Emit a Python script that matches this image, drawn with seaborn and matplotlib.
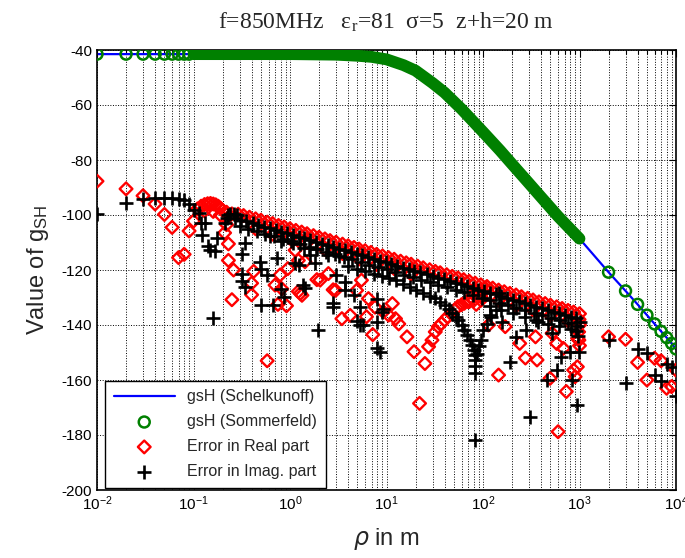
import numpy as np
import matplotlib
matplotlib.use("Agg")
import matplotlib.pyplot as plt
import seaborn as sns

# ---- Schelkunoff / Sommerfeld curve (dB) ----
rho_curve = [0.01, 0.1, 1, 3, 5, 7, 10, 15, 20, 30, 40, 60, 100, 150, 200,
             300, 400, 600, 1000, 2000, 3000, 4000, 5000, 6000, 7000, 8000,
             9000, 10000]
g_sch = [-41.5, -41.5, -41.5, -41.7, -42.1, -42.5, -43.4, -45.5, -47.5, -52.0,
         -55.5, -61.5, -69.8, -76.5, -81.5, -88.5, -93.5, -100.5, -108.6,
         -120.8, -127.6, -132.5, -136.4, -139.6, -142.3, -144.6, -146.7, -148.7]

rho_som = [0.01, 0.02, 0.03, 0.04, 0.05, 0.06, 0.07, 0.08, 0.09,
           2000, 3000, 4000, 5000, 6000, 7000, 8000, 9000, 10000]
g_som = [-41.5, -41.5, -41.5, -41.5, -41.5, -41.5, -41.5, -41.5, -41.5,
         -120.8, -127.6, -132.5, -136.4, -139.6, -142.3, -144.6, -146.7, -148.7]

# ---- error in real part (red diamonds) ----
re_near = [(0.01, -87.7), (0.02, -90.5), (0.03, -93.0), (0.04, -96.0), (0.05, -99.8),
           (0.06, -104.5), (0.07, -115.5), (0.08, -114.3), (0.09, -105.8), (0.10, -102.2),
           (0.11, -97.8), (0.12, -96.8), (0.13, -96.2), (0.14, -95.9), (0.15, -95.8),
           (0.16, -96.0), (0.17, -96.3), (0.18, -96.8), (0.19, -97.5), (0.20, -98.3),
           (0.13, -98.5), (0.16, -98.7), (0.19, -100.0), (0.21, -106.5), (0.22, -103.5),
           (0.23, -110.5), (0.23, -116.5), (0.25, -130.8), (0.26, -120.0), (0.40, -124.8),
           (0.40, -129.0), (0.42, -120.5), (0.58, -153.0), (0.70, -125.5), (0.75, -132.5),
           (0.79, -121.8), (0.82, -126.8), (0.92, -133.0), (0.95, -119.5), (1.13, -112.8),
           (1.22, -116.5), (1.22, -127.8), (1.33, -129.2), (1.43, -117.0), (1.28, -128.5),
           (1.9, -123.5), (2.05, -123.7), (2.5, -121.3), (2.8, -127.2), (2.97, -127.4),
           (3.45, -137.7), (4.2, -136.5), (4.9, -127.4), (5.5, -123.7), (6.2, -137.0),
           (6.5, -130.4), (7.2, -143.5), (7.6, -133.5), (9.3, -135.2), (11.5, -132.2),
           (12.4, -137.7)]
re_top = [(0.22, -99.0), (0.25, -99.6), (0.29, -99.7), (0.33, -100.2), (0.38, -100.8),
          (0.44, -101.4), (0.5, -101.9), (0.58, -102.6), (0.66, -103.1), (0.76, -103.8),
          (0.87, -104.4), (1.0, -105.0), (1.15, -105.6), (1.32, -106.2), (1.5, -106.8),
          (1.75, -107.5), (2.0, -108.1), (2.3, -108.7), (2.6, -109.3), (3.0, -109.9),
          (3.5, -110.6), (4.0, -111.2), (4.6, -111.8), (5.2, -112.4), (6.0, -113.0),
          (6.9, -113.6), (7.9, -114.3), (9.1, -114.9), (10.5, -115.5), (12, -116.1),
          (14, -116.8), (16, -117.4), (18, -117.9), (21, -118.6), (24, -119.2),
          (28, -119.9), (32, -120.5), (36, -121.0), (42, -121.7), (48, -122.3),
          (55, -122.9), (63, -123.5), (72, -124.1), (83, -124.8), (95, -125.4),
          (110, -126.0), (126, -126.6), (145, -127.3), (166, -127.9), (190, -128.5),
          (220, -129.1), (250, -129.7), (290, -130.3), (330, -130.9), (380, -131.6),
          (440, -132.2), (500, -132.8), (580, -133.4), (660, -134.0), (760, -134.7),
          (870, -135.3), (1000, -135.9)]
re_low = [(0.44, -105.0), (0.66, -107.0), (1.0, -108.5), (1.5, -110.0), (2.3, -112.5),
          (3.5, -114.0), (5.2, -116.0), (7.9, -118.0), (12, -119.5), (18, -121.5),
          (145, -131.0), (220, -133.0), (330, -134.5), (500, -136.5), (760, -138.5),
          (1000, -140.0), (980, -142.5), (960, -145.0), (1000, -147.5), (990, -138.0)]
re_arc = [(29.6, -145.5), (32, -142.5), (34.4, -140.6), (37, -139.5), (40, -138.2),
          (43, -137.0), (47, -135.7), (51, -134.5), (55, -133.3), (60, -132.6),
          (64, -132.1), (72, -131.5), (81, -130.9), (95, -129.7), (75, -130.0),
          (80, -128.5), (85, -127.5), (90, -129.0), (95, -131.0), (100, -128.0),
          (85, -132.5), (70, -131.5), (105, -126.5)]
re_far = [(10.5, -136.4), (13.4, -139.6), (16.3, -144.3), (19.3, -149.7), (25, -154.0),
          (27.3, -147.9), (22, -168.5), (114, -140.0), (145, -158.2), (170, -140.6),
          (240, -146.7), (275, -152.0), (363, -152.7), (350, -144.3), (495, -159.4),
          (520, -143.0), (580, -146.7), (680, -148.5), (730, -164.2), (600, -178.8),
          (870, -156.4), (900, -158.8), (950, -155.2), (985, -145.5),
          (2000, -144.3), (3000, -145.2), (4000, -153.6), (5000, -160.0), (6000, -152.1),
          (7000, -153.0), (8000, -163.0), (9000, -162.4), (10000, -156.4)]

# ---- error in imaginary part (black plus) ----
im_near = [(0.01, -99.5), (0.02, -95.5), (0.03, -94.3), (0.04, -93.8), (0.05, -93.8),
           (0.06, -93.8), (0.07, -94.2), (0.08, -94.7), (0.09, -96.0), (0.10, -98.3),
           (0.113, -99.4), (0.12, -103.0), (0.122, -107.3), (0.133, -103.0), (0.14, -111.3),
           (0.149, -112.7), (0.16, -137.6), (0.167, -113.0), (0.175, -108.5), (0.21, -103.0),
           (0.22, -101.0), (0.23, -100.0), (0.24, -99.8), (0.26, -99.5), (0.28, -100.0),
           (0.32, -121.6), (0.32, -124.0), (0.34, -110.3), (0.32, -114.0), (0.34, -126.0),
           (0.49, -117.0), (0.5, -119.5), (0.5, -132.6), (0.58, -121.8), (0.67, -132.6),
           (0.73, -115.8), (0.8, -127.0), (0.86, -129.7), (1.13, -117.6), (1.23, -118.2),
           (1.43, -126.7), (1.62, -114.5), (1.82, -117.6), (1.37, -125.3), (1.97, -141.7),
           (2.97, -121.8), (3.75, -124.2), (3.75, -127.3), (2.8, -133.4), (4.6, -129.2),
           (5.35, -133.5), (7.9, -130.4), (9.3, -134.0), (5.35, -140.1), (7.9, -138.9),
           (4.9, -138.6), (5.7, -140.0), (7.9, -148.4), (2.8, -132.1), (8.6, -149.7),
           (9.0, -135.2)]
im_band = [(0.27, -101.1), (0.31, -101.8), (0.35, -102.3), (0.41, -103.0), (0.47, -103.6),
           (0.54, -104.2), (0.62, -104.9), (0.71, -105.5), (0.81, -106.1), (0.93, -106.7),
           (1.07, -107.3), (1.23, -107.9), (1.41, -108.5), (1.62, -109.2), (1.87, -109.8),
           (2.15, -110.4), (2.45, -111.0), (2.8, -111.6), (3.2, -112.2), (3.7, -112.9),
           (4.3, -113.5), (4.9, -114.1), (5.6, -114.7), (6.4, -115.3), (7.4, -116.0),
           (8.5, -116.6), (9.8, -117.2), (11.2, -117.8), (13, -118.5), (15, -119.1),
           (17, -119.7), (19.5, -120.3), (22.5, -120.9), (26, -121.6), (30, -122.2),
           (34, -122.8), (39, -123.4), (45, -124.0), (52, -124.7), (59, -125.2),
           (68, -125.9), (78, -126.5), (89, -127.1), (102, -127.7), (118, -128.3),
           (135, -128.9), (155, -129.6), (178, -130.2), (205, -130.8), (235, -131.4),
           (270, -132.0), (310, -132.7), (355, -133.3), (410, -133.9), (470, -134.5),
           (540, -135.1), (620, -135.8), (710, -136.4), (810, -137.0), (930, -137.6)]
im_mid = [(0.3, -104.1), (0.37, -105.0), (0.45, -105.9), (0.55, -106.8), (0.68, -107.8),
          (0.84, -108.7), (1.03, -109.6), (1.27, -110.6), (1.56, -111.5), (1.92, -112.4),
          (2.36, -113.3), (2.9, -114.3), (3.6, -115.2), (4.4, -116.1), (5.4, -117.1),
          (6.6, -118.0), (8.1, -118.9), (10, -119.8), (12.3, -120.8), (15.1, -121.7),
          (18.6, -122.6), (22.9, -123.5), (28, -124.4), (34.5, -125.4), (42.5, -126.3),
          (52, -127.2), (64, -128.1), (79, -129.1), (97, -130.0), (119, -131.0),
          (147, -131.9), (180, -132.8), (221, -133.7), (272, -134.7), (335, -135.6),
          (411, -136.5), (506, -137.4), (622, -138.3), (765, -139.3), (940, -140.2)]
im_low = [(0.62, -107.5), (0.81, -109.5), (1.07, -110.0), (1.41, -112.0), (1.87, -112.5),
          (2.45, -114.5), (3.2, -115.0), (118, -133.0), (155, -134.5), (205, -135.5),
          (270, -137.0), (355, -138.0), (470, -139.5), (620, -140.5), (810, -141.5),
          (930, -142.0), (1000, -139.0), (970, -144.0)]
im_arc = [(4, -118.5), (5, -119.5), (6, -120.3), (7.5, -121.3), (9, -122.3),
          (10.5, -123.0), (12.4, -123.6), (15, -125.0), (17.5, -126.2), (20, -127.3),
          (24, -128.5), (28, -129.5), (32, -130.3), (36, -131.5), (40, -132.7),
          (44, -134.0), (48, -135.5), (52, -137.0), (55, -138.2), (60, -140.0),
          (64, -141.8), (68, -143.5), (73, -145.5), (77, -147.3), (80, -149.0),
          (82, -151.0), (83, -152.7), (83.5, -155.0), (82, -157.6),
          (86, -150.5), (90, -147.5), (95, -145.5), (100, -141.8), (110, -139.5),
          (122, -137.0), (135, -134.5), (145, -128.5), (156, -138.8)]
im_far = [(83, -181.8), (118, -136.4), (190, -153.3), (220, -144.3), (280, -141.8),
          (310, -173.3), (375, -138.8), (460, -160.0), (520, -143.0), (580, -156.4),
          (650, -151.5), (800, -149.7), (830, -160.0), (950, -169.0), (985, -149.7),
          (2000, -145.5), (3000, -161.0), (4000, -148.8), (5000, -150.0), (6000, -158.2),
          (7000, -160.2), (8000, -154.0), (9000, -155.2), (10000, -165.8)]

x_ticks = [1e-2, 1e-1, 1e0, 1e1, 1e2, 1e3, 1e4]
y_ticks = [-200, -180, -160, -140, -120, -100, -80, -60, -40]

re_pts = np.array(re_near + re_top + re_low + re_arc + re_far)
im_pts = np.array(im_near + im_band + im_mid + im_low + im_arc + im_far)

sns.set_style("white")
plt.rcParams['font.family'] = ['Liberation Sans', 'DejaVu Sans']
plt.rcParams['mathtext.default'] = 'regular'
plt.rcParams['axes.unicode_minus'] = False

fig = plt.figure(figsize=(6.85, 5.58), dpi=100)
ax = fig.add_axes([97 / 685, 68 / 558, 579 / 685, 440 / 558])

sns.lineplot(x=rho_curve, y=g_sch, color='b', linewidth=1.6, estimator=None,
             sort=False, ax=ax, label='gsH (Schelkunoff)', zorder=2)
# dense part of the Sommerfeld markers (overlapping circles)
dense = [(r, g) for r, g in zip(rho_curve, g_sch) if 0.09 <= r <= 1000]
ax.plot([d[0] for d in dense], [d[1] for d in dense], color='#008000',
        linewidth=8.5, solid_capstyle='round', zorder=3)
sns.scatterplot(x=rho_som, y=g_som, marker='o', s=62, facecolors='none',
                edgecolor='#008000', linewidth=1.8, ax=ax,
                label='gsH (Sommerfeld)', zorder=4)
sns.scatterplot(x=re_pts[:, 0], y=re_pts[:, 1], marker='D', s=42,
                facecolors='none', edgecolor='#ff0000', linewidth=1.7, ax=ax,
                label='Error in Real part', zorder=5)
sns.scatterplot(x=im_pts[:, 0], y=im_pts[:, 1], marker='+', s=105,
                color='k', linewidth=1.9, ax=ax,
                label='Error in Imag. part', zorder=6)

ax.set_xscale('log')
ax.set_xlim(1e-2, 1e4)
ax.set_ylim(-200, -40)
ax.set_xticks(x_ticks)
ax.set_yticks(y_ticks)
ax.grid(True, which='major', linestyle=':', color='k', linewidth=0.7)
ax.xaxis.grid(True, which='minor', linestyle=':', color='k', linewidth=0.7)
ax.tick_params(which='both', direction='in', top=True, right=True,
               labelsize=11, colors='k')
ax.tick_params(which='major', length=5, width=0.8)
ax.tick_params(which='minor', length=3, width=0.8)
for sp in ax.spines.values():
    sp.set_color('k')
    sp.set_linewidth(1.2)

ax.set_title(r'f=850MHz   $\epsilon_{r}$=81  $\sigma$=5  z+h=20 m',
             fontsize=17, family='Liberation Serif', pad=15)
ax.set_ylabel(r'Value of g$_{SH}$', fontsize=17, labelpad=8)
ax.set_xlabel(r'$\it{\rho}$ in m', fontsize=17, labelpad=9)

ax.legend(loc='lower left', bbox_to_anchor=(0.014, 0.005), borderaxespad=0,
          fontsize=11.5, frameon=True, fancybox=False, framealpha=1,
          edgecolor='k', handlelength=3.8, labelspacing=0.62,
          borderpad=0.55, scatterpoints=1)

fig.savefig('out.png', dpi=100)
